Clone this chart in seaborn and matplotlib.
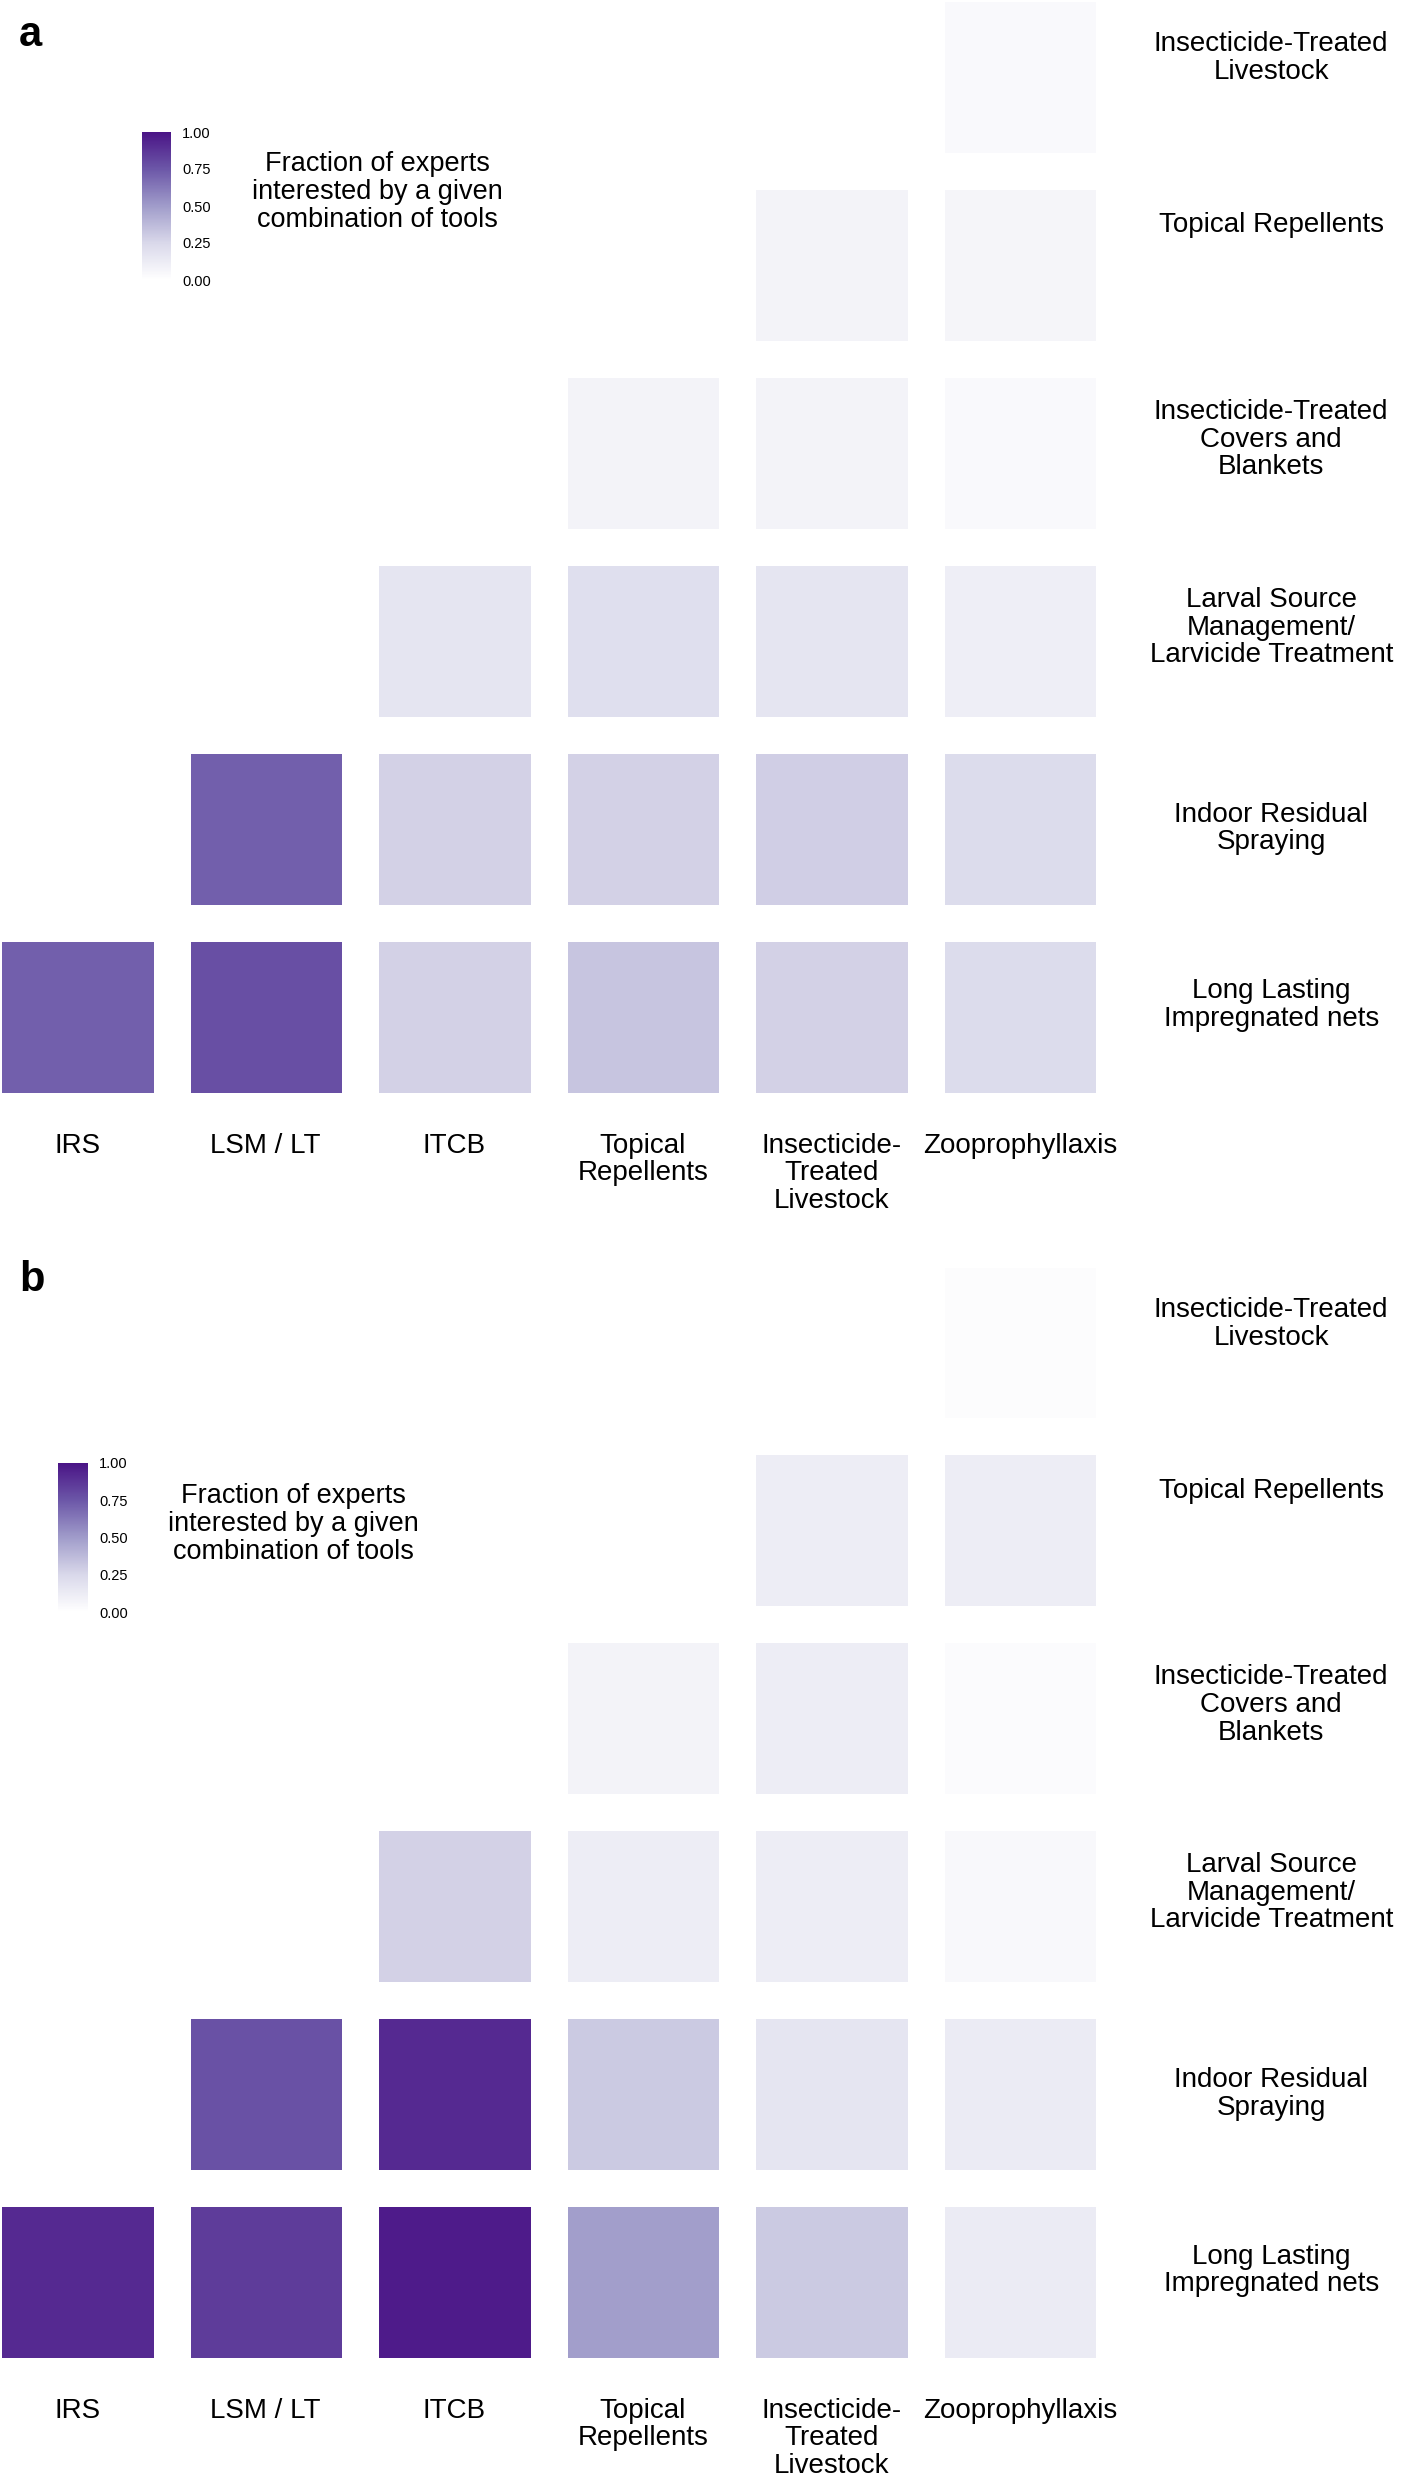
import matplotlib
matplotlib.use('Agg')
import matplotlib.pyplot as plt
import matplotlib.transforms as mtransforms
from matplotlib.colors import LinearSegmentedColormap
import numpy as np
import pandas as pd
import seaborn as sns

NA = np.nan

# Filas de arriba hacia abajo, columnas de izquierda a derecha.
ROW_LABELS = [
    "Insecticide-Treated\nLivestock",
    "Topical Repellents",
    "Insecticide-Treated\nCovers and\nBlankets",
    "Larval Source\nManagement/\nLarvicide Treatment",
    "Indoor Residual\nSpraying",
    "Long Lasting\nImpregnated nets",
]
COL_LABELS = [
    "IRS", "LSM / LT", "ITCB", "Topical\nRepellents",
    "Insecticide-\nTreated\nLivestock", "Zooprophyllaxis",
]
ROW_LABEL_SHIFT = [-0.1, -0.21, -0.07, -0.07, 0.0, -0.06]

VALUES_A = [
    [NA, NA, NA, NA, NA, 0.04],
    [NA, NA, NA, NA, 0.08, 0.07],
    [NA, NA, NA, 0.08, 0.08, 0.04],
    [NA, NA, 0.17, 0.21, 0.17, 0.11],
    [NA, 0.72, 0.28, 0.28, 0.29, 0.23],
    [0.72, 0.78, 0.28, 0.33, 0.28, 0.23],
]
VALUES_B = [
    [NA, NA, NA, NA, NA, 0.02],
    [NA, NA, NA, NA, 0.12, 0.12],
    [NA, NA, NA, 0.08, 0.12, 0.03],
    [NA, NA, 0.28, 0.12, 0.12, 0.05],
    [NA, 0.77, 0.92, 0.31, 0.17, 0.13],
    [0.92, 0.85, 0.97, 0.49, 0.31, 0.13],
]

LEGEND_TITLE = "Fraction of experts\ninterested by a given\ncombination of tools"

W, H = 1406, 2480

sns.set_style("white")
plt.rcParams['font.family'] = ['Liberation Sans', 'DejaVu Sans']
plt.rcParams['text.color'] = 'black'
plt.rcParams['xtick.labelcolor'] = 'black'
plt.rcParams['ytick.labelcolor'] = 'black'

cmap = LinearSegmentedColormap.from_list(
    "purp", ["#FFFFFF", "#D9D8EA", "#A09CCA", "#6C57A8", "#4A1486"])


def px_box(x0, y0, x1, y1):
    # Convierte una caja en píxeles (origen arriba a la izquierda) a fracción de figura.
    return [x0 / W, 1 - y1 / H, (x1 - x0) / W, (y1 - y0) / H]


def draw_panel(fig, values, letter, heat_box, cbar_box, title_xy, letter_xy):
    df = pd.DataFrame(values, index=ROW_LABELS, columns=COL_LABELS)
    ax = fig.add_axes(px_box(*heat_box))
    cax = fig.add_axes(px_box(*cbar_box))
    sns.heatmap(df, ax=ax, cmap=cmap, vmin=0, vmax=1, linewidths=26.6,
                linecolor='white', xticklabels=COL_LABELS, yticklabels=False,
                cbar_ax=cax, cbar_kws={'ticks': [0, 0.25, 0.5, 0.75, 1.0],
                                       'format': '%.2f'})
    ax.tick_params(axis='x', length=0, pad=16, labelsize=20, rotation=0,
                   labelcolor='black')
    for lab in ax.get_xticklabels():
        lab.set_linespacing(1.08)
    trans = mtransforms.blended_transform_factory(ax.transAxes, ax.transData)
    for i, (lab, shift) in enumerate(zip(ROW_LABELS, ROW_LABEL_SHIFT)):
        ax.text(1.139, i + 0.5 + shift, lab, transform=trans, ha='center',
                va='center', fontsize=20, linespacing=1.08)

    cb = ax.collections[0].colorbar
    cb.outline.set_visible(False)
    cax.tick_params(direction='in', color='white', length=5, width=1.2,
                    left=True, right=True, labelsize=10.5, pad=8,
                    labelcolor='black')

    fig.text(title_xy[0] / W, 1 - title_xy[1] / H, LEGEND_TITLE, ha='center',
             va='center', fontsize=19.5, linespacing=1.1)
    fig.text(letter_xy[0] / W, 1 - letter_xy[1] / H, letter, ha='left',
             va='baseline', fontsize=30, fontweight='bold')


fig = plt.figure(figsize=(W / 100, H / 100), dpi=100)
draw_panel(fig, VALUES_A, 'a', (-17, -17, 1114, 1110.5), (142, 132, 171, 280),
           (377, 192), (19, 46))
draw_panel(fig, VALUES_B, 'b', (-17, 1248.6, 1114, 2375.5), (58, 1463, 88, 1612),
           (293, 1524), (19, 1291))
fig.savefig('out.png', dpi=100, facecolor='white')
plt.close(fig)
